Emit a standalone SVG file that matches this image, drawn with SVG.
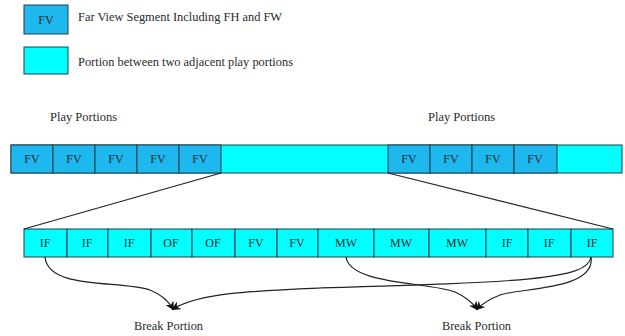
<svg xmlns="http://www.w3.org/2000/svg" width="625" height="336" viewBox="0 0 625 336">
  <style>
    text { font-family: "Liberation Serif", "DejaVu Serif", serif; fill: #2a2a2a; }
    .lbl { font-size: 12.5px; }
    .cell { font-size: 12px; text-anchor: middle; }
    .fv { fill: #1CB8EE; stroke: #1F3F48; stroke-width: 1; }
    .gap { fill: #00FFFF; stroke: #1F3F48; stroke-width: 1; }
    .conn { fill: none; stroke: #222; stroke-width: 1.2; }
  </style>
  <defs>
    <marker id="arrow" viewBox="0 0 10 10" refX="8" refY="5" markerWidth="9" markerHeight="9" orient="auto-start-reverse" markerUnits="userSpaceOnUse">
      <path d="M0,0 L10,5 L0,10 L3,5 z" fill="#111"/>
    </marker>
  </defs>

  <rect width="625" height="336" fill="#fff"/>

  <!-- legend -->
  <g id="legend-fv">
    <rect class="fv" x="24" y="5" width="44" height="29"/>
    <text class="cell" x="46" y="24">FV</text>
    <text class="lbl" x="78" y="21" textLength="204" lengthAdjust="spacingAndGlyphs">Far View Segment Including FH and FW</text>
  </g>
  <g id="legend-gap">
    <rect class="gap" x="24" y="47" width="44" height="27"/>
    <text class="lbl" x="78" y="66" textLength="215" lengthAdjust="spacingAndGlyphs">Portion between two adjacent play portions</text>
  </g>

  <!-- headings above the top stream -->
  <text class="lbl" x="50" y="121" textLength="67" lengthAdjust="spacingAndGlyphs">Play Portions</text>
  <text class="lbl" x="428" y="121" textLength="67" lengthAdjust="spacingAndGlyphs">Play Portions</text>

  <!-- top stream -->
  <g id="top-stream">
    <rect class="gap" x="11" y="145" width="611" height="28"/>
    <g id="top-fv-1"><rect class="fv" x="11" y="145" width="42" height="28"/><text class="cell" x="32" y="163">FV</text></g>
    <g id="top-fv-2"><rect class="fv" x="53" y="145" width="42" height="28"/><text class="cell" x="74" y="163">FV</text></g>
    <g id="top-fv-3"><rect class="fv" x="95" y="145" width="42" height="28"/><text class="cell" x="116" y="163">FV</text></g>
    <g id="top-fv-4"><rect class="fv" x="137" y="145" width="42" height="28"/><text class="cell" x="158" y="163">FV</text></g>
    <g id="top-fv-5"><rect class="fv" x="179" y="145" width="42" height="28"/><text class="cell" x="200" y="163">FV</text></g>
    <g id="top-fv-6"><rect class="fv" x="388" y="145" width="42" height="28"/><text class="cell" x="409" y="163">FV</text></g>
    <g id="top-fv-7"><rect class="fv" x="430" y="145" width="42" height="28"/><text class="cell" x="451" y="163">FV</text></g>
    <g id="top-fv-8"><rect class="fv" x="472" y="145" width="42" height="28"/><text class="cell" x="493" y="163">FV</text></g>
    <g id="top-fv-9"><rect class="fv" x="514" y="145" width="43" height="28"/><text class="cell" x="535" y="163">FV</text></g>
  </g>

  <!-- expanded gap -->
  <g id="bottom-stream">
    <g id="b1"><rect class="gap" x="24" y="229" width="43" height="28"/><text class="cell" x="45" y="247">IF</text></g>
    <g id="b2"><rect class="gap" x="67" y="229" width="41" height="28"/><text class="cell" x="87" y="247">IF</text></g>
    <g id="b3"><rect class="gap" x="108" y="229" width="43" height="28"/><text class="cell" x="129" y="247">IF</text></g>
    <g id="b4"><rect class="gap" x="151" y="229" width="41" height="28"/><text class="cell" x="171" y="247">OF</text></g>
    <g id="b5"><rect class="gap" x="192" y="229" width="43" height="28"/><text class="cell" x="213" y="247">OF</text></g>
    <g id="b6"><rect class="gap" x="235" y="229" width="42" height="28"/><text class="cell" x="256" y="247">FV</text></g>
    <g id="b7"><rect class="gap" x="277" y="229" width="41" height="28"/><text class="cell" x="297" y="247">FV</text></g>
    <g id="b8"><rect class="gap" x="318" y="229" width="56" height="28"/><text class="cell" x="346" y="247">MW</text></g>
    <g id="b9"><rect class="gap" x="374" y="229" width="55" height="28"/><text class="cell" x="401" y="247">MW</text></g>
    <g id="b10"><rect class="gap" x="429" y="229" width="57" height="28"/><text class="cell" x="457" y="247">MW</text></g>
    <g id="b11"><rect class="gap" x="486" y="229" width="42" height="28"/><text class="cell" x="507" y="247">IF</text></g>
    <g id="b12"><rect class="gap" x="528" y="229" width="43" height="28"/><text class="cell" x="549" y="247">IF</text></g>
    <g id="b13"><rect class="gap" x="571" y="229" width="42" height="28"/><text class="cell" x="592" y="247">IF</text></g>
  </g>

  <!-- break labels -->
  <g id="break-1"><text class="lbl" x="134" y="330" textLength="69" lengthAdjust="spacingAndGlyphs">Break Portion</text></g>
  <g id="break-2"><text class="lbl" x="442" y="330" textLength="69" lengthAdjust="spacingAndGlyphs">Break Portion</text></g>

  <!-- connectors -->
  <g id="connectors">
    <line class="conn" x1="221" y1="173" x2="24" y2="229" stroke-width="1"/>
    <line class="conn" x1="388" y1="173" x2="613" y2="229" stroke-width="1"/>
    <path class="conn" d="M45,257 C48,290 120,280 150,290 C160,294 168,300 173,309" marker-end="url(#arrow)"/>
    <path class="conn" d="M591,257 C588,280 520,282 320,288 C250,291 200,293 173,309" marker-end="url(#arrow)"/>
    <path class="conn" d="M346,257 C350,285 430,282 455,292 C466,297 472,302 477,309" marker-end="url(#arrow)"/>
    <path class="conn" d="M591,257 C596,290 520,288 500,295 C490,299 483,303 477,309" marker-end="url(#arrow)"/>
  </g>
</svg>
